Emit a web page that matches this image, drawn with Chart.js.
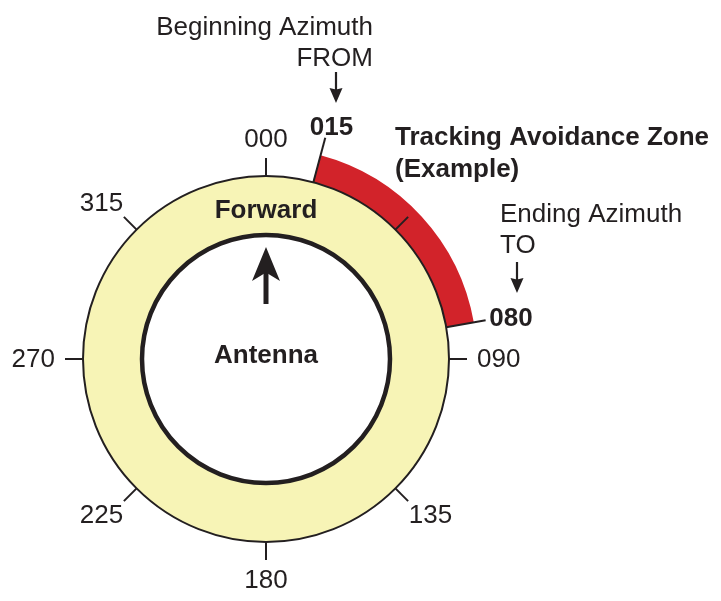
<!DOCTYPE html>
<html>
<head>
<meta charset="utf-8">
<script src="https://cdn.jsdelivr.net/npm/chart.js@4"></script>
<style>
  html, body { margin: 0; padding: 0; background: #fff; }
  #wrap { width: 721px; height: 601px; }
</style>
</head>
<body>
<div id="wrap"><canvas id="grafico_azimute" width="721" height="601"></canvas></div>
<script>
// Azimutes do anel (graus, sentido horário a partir do norte)
const tickAngles = [0, 45, 90, 135, 180, 225, 270, 315];
const tickLabels = ['000', '', '090', '135', '180', '225', '270', '315'];

// Zona de bloqueio: de / até
const zoneAzimuths = [15, 80];
const zoneLabels = ['015', '080'];

const ringColor = '#f7f4b6';
const zoneColor = '#d2232a';
const ink = '#231f20';
const fonte = '"Liberation Sans", Arial, Helvetica, sans-serif';

// Fatias do anel externo: antes da zona, a zona, depois da zona
const zoneSlices = [zoneAzimuths[0], zoneAzimuths[1] - zoneAzimuths[0], 360 - zoneAzimuths[1]];

function setaVertical(ctx, x, y1, y2, headLen, headW, shaft, notch) {
    // desenha uma seta de y1 até y2 (ponta em y2)
    const dir = Math.sign(y2 - y1);
    ctx.save();
    ctx.strokeStyle = ink;
    ctx.fillStyle = ink;
    ctx.lineWidth = shaft;
    ctx.beginPath();
    ctx.moveTo(x, y1);
    ctx.lineTo(x, y2 - dir * headLen * 0.7);
    ctx.stroke();
    ctx.beginPath();
    ctx.moveTo(x, y2);
    ctx.lineTo(x - headW / 2, y2 - dir * headLen);
    ctx.lineTo(x, y2 - dir * headLen * notch);
    ctx.lineTo(x + headW / 2, y2 - dir * headLen);
    ctx.closePath();
    ctx.fill();
    ctx.restore();
}

const anelPlugin = {
    id: 'anel',
    afterDatasetsDraw(chart) {
        const ctx = chart.ctx;
        const arc = chart.getDatasetMeta(1).data[0];
        const cx = arc.x, cy = arc.y;
        const rOut = arc.outerRadius;
        const rIn = arc.innerRadius;
        const rad = a => (a - 90) * Math.PI / 180;

        ctx.save();
        ctx.strokeStyle = ink;

        // borda externa fina e interna grossa
        ctx.lineWidth = 2;
        ctx.beginPath();
        ctx.arc(cx, cy, rOut, 0, Math.PI * 2);
        ctx.stroke();
        ctx.lineWidth = 4.5;
        ctx.beginPath();
        ctx.arc(cx, cy, rIn, 0, Math.PI * 2);
        ctx.stroke();

        // marcas a cada 45 graus
        ctx.lineWidth = 2;
        const tickEnd = rOut + 18;
        tickAngles.forEach(a => {
            ctx.beginPath();
            ctx.moveTo(cx + Math.cos(rad(a)) * rOut, cy + Math.sin(rad(a)) * rOut);
            ctx.lineTo(cx + Math.cos(rad(a)) * tickEnd, cy + Math.sin(rad(a)) * tickEnd);
            ctx.stroke();
        });

        // linhas dos limites da zona
        const zoneEnds = [rOut + 46, rOut + 40];
        zoneAzimuths.forEach((a, i) => {
            ctx.beginPath();
            ctx.moveTo(cx + Math.cos(rad(a)) * rOut, cy + Math.sin(rad(a)) * rOut);
            ctx.lineTo(cx + Math.cos(rad(a)) * zoneEnds[i], cy + Math.sin(rad(a)) * zoneEnds[i]);
            ctx.stroke();
        });

        // rótulos
        ctx.fillStyle = ink;
        ctx.textAlign = 'center';
        ctx.textBaseline = 'middle';
        const h = 19;
        function rotulo(txt, a, r0) {
            const w = ctx.measureText(txt).width;
            const s = Math.sin(a * Math.PI / 180), c = Math.cos(a * Math.PI / 180);
            ctx.fillText(txt, cx + s * (r0 + w / 2), cy - c * (r0 + h / 2) + 1);
        }
        ctx.font = '26px ' + fonte;
        tickAngles.forEach((a, i) => {
            if (tickLabels[i]) rotulo(tickLabels[i], a, rOut + 28);
        });
        ctx.font = 'bold 26px ' + fonte;
        rotulo(zoneLabels[0], zoneAzimuths[0], zoneEnds[0] + 2);
        rotulo(zoneLabels[1], zoneAzimuths[1], zoneEnds[1] + 4);

        // textos internos
        ctx.font = 'bold 26px ' + fonte;
        ctx.textBaseline = 'alphabetic';
        ctx.fillText('Forward', cx, cy - 141);
        ctx.fillText('Antenna', cx, cy + 4);
        ctx.restore();

        setaVertical(ctx, cx, cy - 55, cy - 112, 34, 28, 5, 0.75);
    },
    afterDraw(chart) {
        const ctx = chart.ctx;
        ctx.save();
        ctx.fillStyle = ink;
        ctx.textBaseline = 'alphabetic';

        ctx.font = '26px ' + fonte;
        ctx.textAlign = 'right';
        ctx.fillText('Beginning Azimuth', 373, 35);
        ctx.fillText('FROM', 373, 66);

        ctx.textAlign = 'left';
        ctx.fillText('Ending Azimuth', 500, 222);
        ctx.fillText('TO', 500, 253);

        ctx.font = 'bold 26px ' + fonte;
        ctx.fillText('Tracking Avoidance Zone', 395, 145);
        ctx.fillText('(Example)', 395, 177);
        ctx.restore();

        setaVertical(ctx, 336, 72, 103, 15, 13, 2.2, 0.9);
        setaVertical(ctx, 517, 262, 293, 15, 13, 2.2, 0.9);
    }
};

function criarGraficoAzimute() {
    const ctx = document.getElementById('grafico_azimute').getContext('2d');

    new Chart(ctx, {
        type: 'doughnut',
        data: {
            labels: ['antes', 'zona', 'depois'],
            datasets: [{
                label: 'Zona de bloqueio',
                data: zoneSlices,
                backgroundColor: ['rgba(0,0,0,0)', zoneColor, 'rgba(0,0,0,0)'],
                borderWidth: 0,
                weight: 28
            }, {
                label: 'Anel',
                data: [360],
                backgroundColor: [ringColor],
                borderWidth: 0,
                weight: 59
            }]
        },
        options: {
            responsive: false,
            animation: false,
            radius: 211,
            cutout: 124,
            layout: {
                padding: { left: 55, right: 244, top: 148, bottom: 31 }
            },
            plugins: {
                legend: { display: false },
                tooltip: { enabled: false },
                title: { display: false }
            }
        },
        plugins: [anelPlugin]
    });
}

criarGraficoAzimute();
</script>
</body>
</html>
